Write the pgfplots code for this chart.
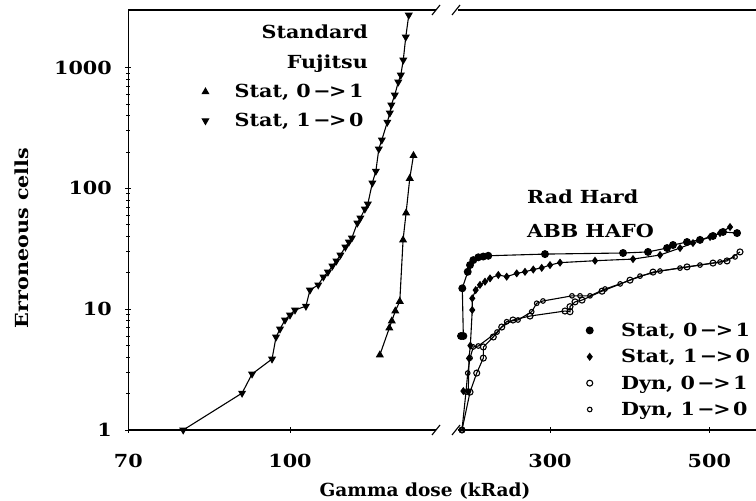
\documentclass[border=0pt]{standalone}
\usepackage{pgfplots}
\pgfplotsset{compat=1.18}
\usepackage{fontspec}
\setmainfont{DejaVu Serif}[FakeStretch=1.15]
\newfontfamily\narrowf{DejaVu Serif}[FakeStretch=1.03]
\newcommand{\lbl}{\bfseries\fontsize{18}{20}\selectfont}
\newcommand{\arr}[2]{#1\kern2.5pt−\kern-1.5pt>\kern2.5pt#2}
\pgfplotsset{
  legend image code/.code={\draw[#1,only marks] plot coordinates {(0pt,0pt)};},
  every axis plot/.append style={line width=1.1pt, black},
}
\begin{document}
\begin{tikzpicture}[x=1pt,y=1pt]
\useasboundingbox (0,0) rectangle (756,501);
% ---------- left part (Standard Fujitsu) ----------
\begin{axis}[scale only axis, height=420pt, ymode=log, ymin=1, ymax=3000,
  anchor=south west, at={(128.3pt,71pt)}, width=307.7pt,
  axis line style={line width=1.3pt},
  tick style={line width=0.9pt, black},
  tick align=center, major tick length=6pt, minor tick length=4pt,
  ticklabel style={font=\lbl},
  xticklabel style={yshift=-18pt},
  yticklabel style={xshift=-10pt},
  xtick pos=left,
  xmin=70, xmax=127.09,
  axis x line*=box, axis y line*=left,
  xtick={70,100}, xticklabels={70,100},
  ytick={1,10,100,1000}, yticklabels={1,10,100,1000},
  legend style={draw=none, fill=none, font=\lbl, inner sep=0pt,
    row sep=10pt, column sep=24pt, cells={anchor=west},
    at={(0.24,0.828)}, anchor=north west},
]
\addplot[mark=triangle*, mark size=3.6pt] coordinates {
(116.67,4.18) (118.43,6.99) (118.89,7.99) (119.54,9.66) (120.37,11.6)
(120.98,37.4) (121.54,62.6) (122.22,121) (122.91,187)
};
\addlegendentry{Stat, \arr{0}{1}}
\addplot[mark=triangle*, mark size=3.6pt, every mark/.append style={rotate=180}] coordinates {
(80.19,1) (91.11,2.02) (92.96,2.91) (96.67,3.87) (97.41,5.89) (98.15,6.86)
(99.07,8.14) (100.0,8.95) (100.93,9.85) (102.96,10.6) (103.70,14.4)
(105.24,15.9) (106.20,18.5) (107.04,20.3) (107.87,22.8) (108.61,25.1)
(109.35,28.1) (110.28,32.7) (110.93,36.0) (111.48,38.9) (112.50,51.7)
(113.06,56.9) (113.89,67.5) (114.44,74.3) (115.28,111) (115.93,139)
(116.48,212) (117.04,252) (118.06,354) (118.52,421) (118.80,490)
(119.44,593) (120.09,760) (120.56,868) (121.02,1156) (121.48,1792)
(122.04,2725)
};
\addlegendentry{Stat, \arr{1}{0}}
\end{axis}
% ---------- right part (Rad Hard ABB HAFO) ----------
\begin{axis}[scale only axis, height=420pt, ymode=log, ymin=1, ymax=3000,
  anchor=south west, at={(458pt,71pt)}, width=298pt,
  axis line style={line width=1.3pt},
  tick style={line width=0.9pt, black},
  tick align=center, major tick length=6pt, minor tick length=4pt,
  ticklabel style={font=\lbl},
  xticklabel style={yshift=-18pt},
  xtick pos=left,
  xmin=184.5, xmax=558.6,
  axis x line*=box, axis y line=none,
  xtick={300,500}, xticklabels={300,500},
  ytick=\empty,
  legend style={draw=none, fill=none, font=\lbl, inner sep=0pt,
    row sep=7.5pt, column sep=26pt, cells={anchor=west},
    at={(0.43,0.26)}, anchor=north west},
]
\addplot[mark=*, mark size=3.4pt] coordinates {
(188.3,6.0) (191.2,6.0) (189.9,14.9) (196.7,20.4) (199.6,23.2) (203.7,25.5)
(210.0,26.9) (216.3,27.3) (222.5,27.7) (293.7,28.6) (391.7,29.2) (423.0,29.8)
(446.9,32.1) (454.4,34.0) (472.0,36.0) (488.3,37.5) (504.6,40.4) (517.2,43.6)
(534.8,42.7)
};
\addlegendentry{Stat, \arr{0}{1}}
\addplot[mark=diamond*, mark size=3.2pt] coordinates {
(191.2,2.1) (197.4,2.08) (198.3,3.92) (200.0,5.0) (202.4,9.85) (202.4,12.3)
(206.7,14.4) (212.1,15.9) (218.4,16.9) (224.7,18.0) (235.1,19.2) (245.6,18.6)
(258.2,19.8) (268.6,20.4) (279.0,21.3) (289.6,22.0) (300.0,23.2) (312.6,24.3)
(356.5,25.2) (404.2,26.0) (438.1,28.1) (463.2,32.1) (479.5,35.3) (500.9,39.6)
(513.4,42.7) (526.0,47.9)
};
\addlegendentry{Stat, \arr{1}{0}}
\addplot[mark=o, mark size=3.0pt, mark options={fill=white}] coordinates {
(189.5,1) (199.6,2.06) (208.0,2.96) (216.3,3.94) (216.3,4.87) (228.8,5.89)
(239.4,7.12) (253.5,8.14) (274.9,8.78) (318.8,9.66) (325.1,9.53) (325.1,10.5)
(331.4,11.5) (340.2,11.9) (365.3,14.1) (400.4,17.4) (429.3,20.3) (472.0,22.4)
(504.6,24.1) (522.2,25.1) (538.5,29.8)
};
\addlegendentry{Dyn, \arr{0}{1}}
\addplot[mark=o, mark size=2.3pt, mark options={fill=white}] coordinates {
(189.5,1) (194.5,2.06) (196.7,2.96) (199.6,3.94) (203.7,4.87) (210.0,4.96)
(233.5,6.47) (245.6,7.88) (259.8,8.14) (277.0,9.53) (283.3,11.2) (291.2,11.7)
(327.6,12.9) (337.7,12.9) (350.2,12.9) (369.1,14.7) (388.1,16.2) (413.0,18.8)
(438.1,20.7) (463.2,21.9) (488.3,23.2) (513.4,24.6) (532.3,27.1)
};
\addlegendentry{Dyn, \arr{1}{0}}
\end{axis}
% axis breaks
\draw[line width=1.1pt] (432,66) -- (440,76);
\draw[line width=1.1pt] (432,486) -- (440,496);
\draw[line width=1.1pt] (452,66) -- (460,76);
\draw[line width=1.1pt] (452,486) -- (460,496);
% annotations
\node[anchor=east, font=\lbl, inner sep=0pt] at (368,469) {Standard};
\node[anchor=east, font=\lbl, inner sep=0pt] at (368,437) {Fujitsu};
\node[anchor=west, font=\lbl, inner sep=0pt] at (527,304.5) {Rad Hard};
\node[anchor=west, font=\lbl, inner sep=0pt] at (527,270.5) {ABB HAFO};
\node[rotate=90, font=\lbl, inner sep=0pt] at (22,263) {Erroneous cells};
\node[font=\lbl\narrowf, inner sep=0pt] at (425,10) {Gamma dose (kRad)};
\end{tikzpicture}
\end{document}
